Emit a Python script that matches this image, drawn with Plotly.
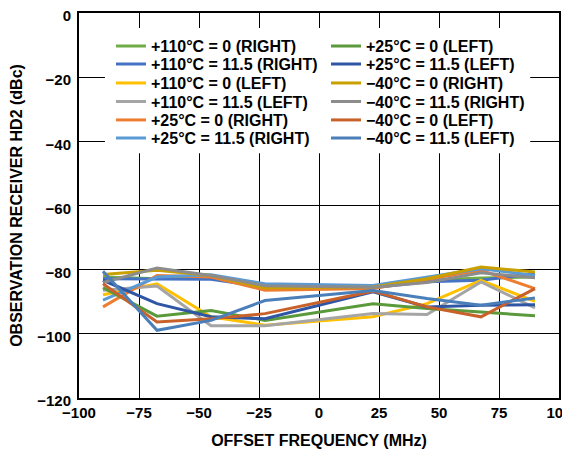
import plotly.graph_objects as go

offsets = [-90, -67.5, -45, -22.5, 22.5, 45, 67.5, 90]

series_names = [
    "+110°C = 0 (RIGHT)", "+110°C = 11.5 (RIGHT)", "+110°C = 0 (LEFT)",
    "+110°C = 11.5 (LEFT)", "+25°C = 0 (RIGHT)", "+25°C = 11.5 (RIGHT)",
    "+25°C = 0 (LEFT)", "+25°C = 11.5 (LEFT)", "\u221240°C = 0 (RIGHT)",
    "\u221240°C = 11.5 (RIGHT)", "\u221240°C = 0 (LEFT)", "\u221240°C = 11.5 (LEFT)",
]

hd2_110_0_right = [-82.3, -82.8, -82.0, -84.7, -85.4, -83.3, -82.6, -82.3]
hd2_110_115_right = [-82.8, -83.0, -83.0, -85.4, -85.6, -83.8, -83.3, -81.2]
hd2_110_0_left = [-87.8, -84.4, -94.7, -97.3, -94.7, -90.6, -83.3, -89.9]
hd2_110_115_left = [-86.4, -85.1, -97.5, -97.5, -93.7, -94.0, -83.8, -91.9]
hd2_25_0_right = [-91.6, -81.8, -82.3, -86.4, -85.9, -83.0, -80.2, -85.9]
hd2_25_115_right = [-89.5, -82.3, -81.6, -84.4, -84.9, -82.3, -79.7, -81.8]
hd2_25_0_left = [-85.6, -94.5, -92.7, -95.8, -90.6, -92.1, -93.2, -94.4]
hd2_25_115_left = [-83.3, -90.6, -94.7, -95.3, -86.9, -91.6, -91.1, -90.9]
hd2_m40_0_right = [-81.5, -80.2, -81.8, -85.7, -85.4, -82.8, -79.2, -80.7]
hd2_m40_115_right = [-84.0, -79.5, -81.8, -85.0, -85.5, -84.0, -81.0, -82.5]
hd2_m40_0_left = [-84.4, -96.3, -95.3, -93.7, -86.7, -91.6, -94.7, -85.9]
hd2_m40_115_left = [-80.5, -98.9, -95.8, -89.6, -86.5, -89.0, -91.1, -88.8]

series_values = [
    hd2_110_0_right, hd2_110_115_right, hd2_110_0_left, hd2_110_115_left,
    hd2_25_0_right, hd2_25_115_right, hd2_25_0_left, hd2_25_115_left,
    hd2_m40_0_right, hd2_m40_115_right, hd2_m40_0_left, hd2_m40_115_left,
]

colors = [
    "#70AD47", "#4472C4", "#FFC000", "#A5A5A5", "#ED7D31", "#5B9BD5",
    "#5B9A3C", "#2F56A5", "#C9A000", "#8C8C8C", "#C8612A", "#4A7FBA",
]

x_ticks = [-100, -75, -50, -25, 0, 25, 50, 75, 100]
y_ticks = [-120, -100, -80, -60, -40, -20, 0]

FONT = "Liberation Sans, Arial, sans-serif"

# legend rows: row r holds series r (left column) and series r+6 (right column)
legend_ids = ["legend", "legend2", "legend3", "legend4", "legend5", "legend6"]
row_y = [0.914, 0.867, 0.818, 0.770, 0.722, 0.675]

fig = go.Figure()
for i, (name, vals, col) in enumerate(zip(series_names, series_values, colors)):
    fig.add_trace(go.Scatter(
        x=offsets, y=vals, name=name, mode="lines",
        line=dict(color=col, width=3),
        legend=legend_ids[i % 6],
    ))

legend_layout = {}
for lid, ly in zip(legend_ids, row_y):
    legend_layout[lid] = dict(
        font=dict(family=FONT, size=16, color="black", weight="bold"),
        bgcolor="rgba(0,0,0,0)", borderwidth=0,
        orientation="h", x=0.0667, y=ly, xanchor="left", yanchor="middle",
        itemwidth=30, entrywidth=170, entrywidthmode="pixels",
        traceorder="normal",
    )

fig.update_layout(
    width=562, height=445,
    margin=dict(l=71, r=11, t=5, b=55, autoexpand=False),
    paper_bgcolor="white", plot_bgcolor="white",
    font=dict(family=FONT, size=15, color="black"),
    shapes=[dict(
        type="rect", xref="paper", yref="paper",
        x0=0.054, x1=0.94, y0=0.636, y1=0.961,
        fillcolor="white", line=dict(width=0), layer="above",
    )],
    xaxis=dict(
        range=[-100, 100], tickvals=x_ticks,
        ticktext=[str(v).replace("-", "\u2212") for v in x_ticks],
        showgrid=True, gridcolor="black", gridwidth=1,
        showline=True, linecolor="black", linewidth=2, mirror=True,
        zeroline=False, ticks="", ticklabelstandoff=0, automargin=False,
        ticklabeloverflow="allow",
        tickfont=dict(family=FONT, size=15, weight="bold"),
        title=dict(text="OFFSET FREQUENCY (MHz)", standoff=15,
                   font=dict(family=FONT, size=16, weight="bold")),
    ),
    yaxis=dict(
        range=[-120, 0], tickvals=y_ticks,
        ticktext=[str(v).replace("-", "\u2212") for v in y_ticks],
        showgrid=True, gridcolor="black", gridwidth=1,
        showline=True, linecolor="black", linewidth=2, mirror=True,
        zeroline=False, ticks="", ticklabelstandoff=3, ticklabelshift=3,
        automargin=False, ticklabeloverflow="allow",
        tickfont=dict(family=FONT, size=15, weight="bold"),
        title=dict(text="OBSERVATION RECEIVER HD2 (dBc)", standoff=11,
                   font=dict(family=FONT, size=16, weight="bold")),
    ),
)
fig.update_layout(**legend_layout)

fig.write_html("out.html")
